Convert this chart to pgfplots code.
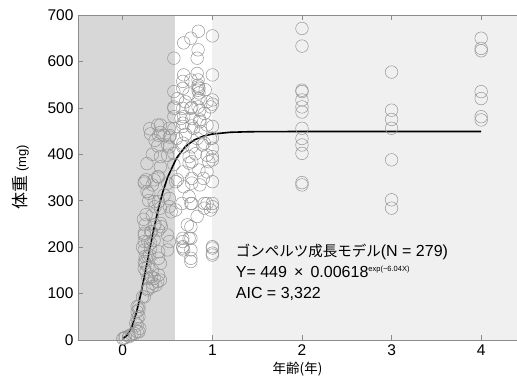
\documentclass[border=0pt]{standalone}
\usepackage{pgfplots}
\pgfplotsset{compat=1.18}
\usepackage{fontspec}
\setmainfont{Liberation Sans}
\newfontfamily\cjk{Noto Sans CJK JP}
\definecolor{bgdark}{RGB}{215,215,215}
\definecolor{bglight}{RGB}{240,240,240}
\definecolor{ptgray}{RGB}{150,150,150}
\definecolor{axgray}{RGB}{140,140,140}
\begin{document}
\begin{tikzpicture}
\begin{axis}[
  name=ax, scale only axis, width=439pt, height=325pt,
  xmin=-0.5, xmax=4.4, ymin=0, ymax=700,
  xtick={0,1,2,3,4}, ytick={0,100,...,700},
  ytick pos=left,
  tick align=inside, major tick length=5pt,
  axis line style={axgray, line width=0.7pt},
  tick style={axgray, line width=0.6pt},
  axis on top,
  /pgf/number format/assume math mode=true,
  tick label style={font=\fontsize{15.5}{18}\selectfont},
  xticklabel style={yshift=-1pt},
  yticklabel style={xshift=-1pt},
  xlabel={{\cjk\fontsize{13.5}{16}\selectfont 年齢(年)}},
  ylabel={{\cjk\fontsize{17}{20}\selectfont 体重}\hspace{4pt}{\fontsize{13}{16}\selectfont(mg)}},
  xlabel style={yshift=0pt},
  ylabel style={yshift=12pt},
]
\addplot[fill=bgdark, draw=none] coordinates {(-0.5,700) (0.58,700)} \closedcycle;
\addplot[fill=white, draw=none] coordinates {(0.58,700) (1.0,700)} \closedcycle;
\addplot[fill=bglight, draw=none] coordinates {(1.0,700) (4.4,700)} \closedcycle;

\addplot[only marks, mark=o, mark size=6.3pt, ptgray, mark options={line width=0.5pt}] coordinates {
(0.00,3) (0.015,4) (0.03,6) (0.07,7) (0.07,9) (0.10,12) (0.13,14) (0.16,18) (0.18,18) (0.19,25)
(0.16,32) (0.145,36) (0.16,47) (0.18,50) (0.16,61) (0.18,65) (0.16,72) (0.18,72)
(0.22,93) (0.24,93) (0.28,108) (0.28,111) (0.33,115) (0.37,118) (0.33,122) (0.39,126) (0.42,129)
(0.28,133) (0.35,133) (0.32,136) (0.40,140) (0.26,147) (0.33,151) (0.24,154) (0.28,158) (0.25,165)
(0.42,165) (0.24,169) (0.40,176) (0.25,180) (0.28,180) (0.30,183) (0.40,190) (0.24,194) (0.31,197)
(0.50,194) (0.24,212) (0.28,212) (0.35,215) (0.52,212) (0.31,208) (0.24,226) (0.24,230) (0.31,233)
(0.32,233) (0.40,237) (0.50,226) (0.25,248) (0.35,248) (0.36,248) (0.42,251) (0.43,244) (0.33,269)
(0.42,284) (0.54,276) (0.35,298) (0.36,287) (0.52,287) (0.59,280) (0.40,298) (0.29,316) (0.46,312)
(0.52,305) (0.24,338) (0.33,334) (0.50,338) (0.59,341) (0.26,345) (0.35,345) (0.24,341) (0.39,352)
(0.40,351) (0.42,373) (0.42,395) (0.39,418) (0.31,444) (0.42,447) (0.40,441) (0.42,463) (0.50,398)
(0.50,420) (0.52,437) (0.52,456) (0.53,440) (0.52,416) (0.57,402) (0.57,378) (0.60,434) (0.61,345)
(0.57,499) (0.57,502) (0.57,481) (0.57,535) (0.57,607) (0.61,520) (0.57,455) (0.30,455) (0.36,430)
(0.33,400) (0.39,463) (0.46,441) (0.27,380) (0.29,300) (0.26,270) (0.23,260) (0.27,320) (0.22,200)
(0.68,640) (0.68,571) (0.67,557) (0.67,542) (0.67,499) (0.68,481) (0.65,477) (0.67,467) (0.67,460)
(0.70,443) (0.67,424) (0.67,416) (0.70,513) (0.67,362) (0.74,395) (0.74,381) (0.72,248) (0.67,219)
(0.67,212) (0.68,194) (0.67,198) (0.67,201) (0.66,294) (0.68,330) (0.74,309) (0.74,219)
(0.76,650) (0.77,501) (0.76,499) (0.77,477) (0.77,461) (0.79,456) (0.77,416) (0.77,384) (0.77,348)
(0.77,338) (0.77,294) (0.76,294) (0.76,244) (0.76,219) (0.76,194) (0.76,176) (0.76,169) (0.74,530)
(0.76,560)
(0.844,665) (0.84,625) (0.83,607) (0.83,574) (0.84,560) (0.84,549) (0.85,542) (0.85,532) (0.84,502)
(0.86,495) (0.86,474) (0.87,449) (0.86,470) (0.83,434) (0.85,520) (0.81,401) (0.85,366) (0.86,334)
(0.83,266) (0.84,545) (0.84,538)
(0.92,539) (0.91,488) (0.94,513) (0.94,463) (0.91,424) (0.89,420) (0.94,398) (0.94,362) (0.90,348)
(0.91,294) (0.91,284) (0.94,294)
(1.0,655) (1.0,571) (1.0,517) (1.0,508) (0.98,502) (1.0,460) (1.0,435) (0.98,434) (1.0,413) (1.0,395)
(1.0,388) (0.96,384) (1.0,341) (1.0,294) (1.0,287) (0.98,280) (1.0,201) (1.0,198) (1.0,187) (1.0,183)
(2,671) (2,633) (2,538) (2,535) (2,517) (2,502) (2,491) (2,456) (2,434) (2,420) (2,402) (2,339) (2,334)
(3,577) (3,495) (3,475) (3,456) (3,388) (3,302) (3,284)
(4,650) (4,628) (4,623) (4,535) (4,520) (4,481) (4,474)
};

\addplot[black, line width=1.6pt] coordinates {
(0,2.8) (0.05,10.4) (0.1,27.8) (0.15,57.5) (0.2,98.2) (0.25,146.0) (0.3,195.7) (0.35,242.9)
(0.4,285.1) (0.45,320.9) (0.5,350.3) (0.6,392.0) (0.7,416.9) (0.8,431.2) (0.9,439.2) (1.0,443.6)
(1.2,447.4) (1.4,448.5) (1.6,448.9) (2,449) (3,449) (4,449)
};

\node[anchor=north west, inner sep=0pt, align=left, font=\fontsize{16}{21}\selectfont]
  at (axis cs:1.26,208) {{\cjk\fontsize{14.5}{21}\selectfont ゴンペルツ成長モデル}(N = 279)\\
  Y= 449 \,×\, 0.00618\raisebox{6pt}{\fontsize{7.5}{8}\selectfont exp(−6.04X)}\\
  AIC = 3,322};
\end{axis}
\pgfresetboundingbox
\path ([shift={(-78pt,-38pt)}]ax.south west) rectangle ([shift={(0pt,15pt)}]ax.north east);
\end{tikzpicture}
\end{document}
